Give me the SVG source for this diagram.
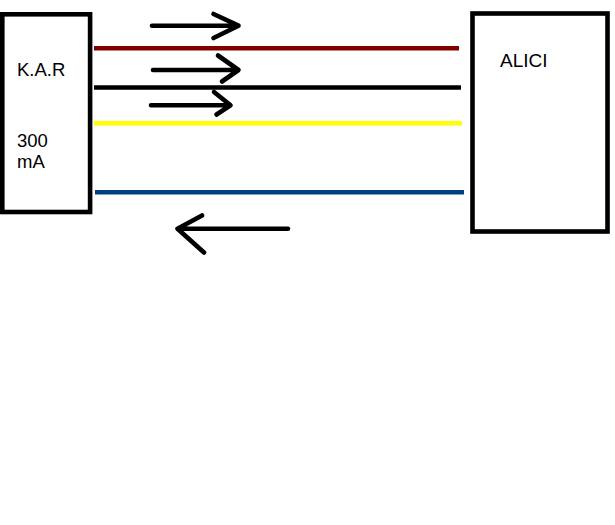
<svg xmlns="http://www.w3.org/2000/svg" width="615" height="525" viewBox="0 0 615 525">
<style>
.box{fill:#fff;stroke:#000;stroke-width:4.6}
.lbl{font-family:"Liberation Sans",Arial,sans-serif;font-size:18.5px;fill:#000}
.wire{stroke-width:4.6;stroke-linecap:round;fill:none}
.arr{stroke:#000;stroke-width:4.6;stroke-linecap:round;stroke-linejoin:round;fill:none}
</style>
<rect width="615" height="525" fill="#fff"/>
<g id="kar">
<rect class="box" x="2.3" y="14.3" width="87.8" height="197.7"/>
<text class="lbl" x="17" y="75.5">K.A.R</text>
<text class="lbl" x="17" y="146.7">300</text>
<text class="lbl" x="17" y="168.3">mA</text>
</g>
<g id="alici">
<rect class="box" x="472.5" y="13.5" width="135" height="218"/>
<text class="lbl" x="500" y="66.7" style="font-size:19px">ALICI</text>
</g>
<g id="connectors">
<line class="wire" x1="94" y1="48.3" x2="459" y2="48.3" stroke="#800000" style="stroke-linecap:butt"/>
<line class="wire" x1="94" y1="87.5" x2="461" y2="87.5" stroke="#000" style="stroke-linecap:butt"/>
<line class="wire" x1="94" y1="123.3" x2="462" y2="123.3" stroke="#ffff00" style="stroke-linecap:butt"/>
<line class="wire" x1="95" y1="192.2" x2="464" y2="192.2" stroke="#004080" style="stroke-linecap:butt"/>
<path class="arr" d="M152,25.7 H238 M213.5,14 L238.5,25.7 L213.5,38"/>
<path class="arr" d="M153,70 H238 M218,55.5 L238.5,70 L222,81.5"/>
<path class="arr" d="M151,105.3 H230 M214,92 L230.5,105.3 L216.5,114.5"/>
<path class="arr" d="M288,228.7 H178 M202,215.5 L177.5,228.7 L204,252.5"/>
</g>
</svg>
